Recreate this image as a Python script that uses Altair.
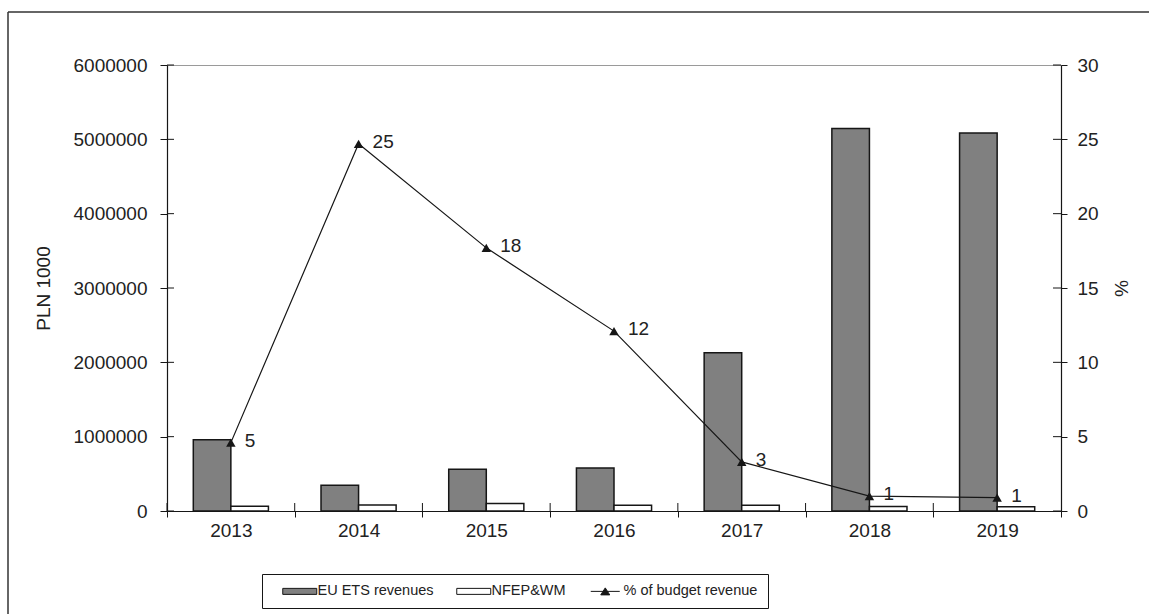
import altair as alt
import pandas as pd

# ---- data -------------------------------------------------------------
years = ["2013", "2014", "2015", "2016", "2017", "2018", "2019"]
eu_ets_revenues = [960000, 345000, 561000, 578000, 2130000, 5145000, 5085000]
nfep_wm = [65000, 80000, 100000, 78000, 76000, 60000, 58000]
budget_share = [4.6, 24.7, 17.7, 12.1, 3.3, 1.0, 0.9]

bar_series = ["EU ETS revenues", "NFEP&WM"]
line_series = "% of budget revenue"
legend_order = bar_series + [line_series]

left_ticks = [0, 1000000, 2000000, 3000000, 4000000, 5000000, 6000000]
right_ticks = [0, 5, 10, 15, 20, 25, 30]

FONT = "Liberation Sans"
INK = "#161616"
TEXT = "#222222"
W, H = 894, 446

bars_df = pd.DataFrame(
    {
        "year": years * 2,
        "series": [bar_series[0]] * len(years) + [bar_series[1]] * len(years),
        "value": eu_ets_revenues + nfep_wm,
    }
)
line_df = pd.DataFrame({"year": years, "pct": budget_share})
left_tick_df = pd.DataFrame({"value": left_ticks})
right_tick_df = pd.DataFrame({"pct": right_ticks})
year_df = pd.DataFrame({"year": years})
legend_df = pd.DataFrame({"series": legend_order})
one_row = pd.DataFrame({"k": [0]})

x_enc = alt.X(
    "year:N",
    sort=years,
    scale=alt.Scale(paddingInner=0, paddingOuter=0),
    axis=alt.Axis(
        title=None,
        labelAngle=0,
        tickBand="extent",
        tickSize=6,
        labelPadding=4,
        labelFontSize=19,
    ),
)

# ---- left scale: revenues in PLN 1000 -----------------------------------
bars = alt.Chart(bars_df).mark_bar(stroke=INK, strokeWidth=1.5).encode(
    x=x_enc,
    xOffset=alt.XOffset(
        "series:N",
        sort=bar_series,
        scale=alt.Scale(domain=bar_series, paddingInner=0, paddingOuter=0.7),
    ),
    y=alt.Y(
        "value:Q",
        scale=alt.Scale(domain=[0, 6000000], nice=False),
        axis=alt.Axis(
            title="PLN 1000",
            orient="left",
            values=left_ticks,
            format="d",
            tickSize=7,
            labelPadding=13,
            titlePadding=20,
        ),
    ),
    fill=alt.condition(
        alt.datum.series == bar_series[0], alt.value("#808080"), alt.value("#ffffff")
    ),
)

# inner halves of the crossing tick marks
left_inner = alt.Chart(left_tick_df).mark_rule(color=INK, strokeWidth=1).encode(
    y=alt.Y("value:Q"), x=alt.value(0), x2=alt.value(7)
)
x_inner = alt.Chart(year_df).mark_rule(color=INK, strokeWidth=1).encode(
    x=alt.X("year:N", sort=years, bandPosition=0),
    y=alt.value(H - 8),
    y2=alt.value(H),
)

left_layer = alt.layer(bars, left_inner, x_inner)

# ---- right scale: share of budget revenue -------------------------------
y_pct = alt.Y(
    "pct:Q",
    scale=alt.Scale(domain=[0, 30], nice=False),
    axis=alt.Axis(
        title="%",
        orient="right",
        values=right_ticks,
        tickSize=6,
        labelPadding=10,
        titlePadding=12,
    ),
)

line = alt.Chart(line_df).mark_line(color=INK, strokeWidth=1.2).encode(
    x=alt.X("year:N", sort=years), y=y_pct
)
points = alt.Chart(line_df).mark_point(
    shape="triangle-up", filled=True, size=90, color=INK, opacity=1
).encode(x=alt.X("year:N", sort=years), y=y_pct)
labels = alt.Chart(line_df).mark_text(
    align="left", baseline="middle", dx=14, dy=-2, fontSize=19, font=FONT, color=TEXT
).encode(
    x=alt.X("year:N", sort=years),
    y=y_pct,
    text=alt.Text("pct:Q", format=".0f"),
)
right_inner = alt.Chart(right_tick_df).mark_rule(color=INK, strokeWidth=1).encode(
    y=alt.Y("pct:Q"), x=alt.value(W - 8), x2=alt.value(W)
)

right_layer = alt.layer(line, points, labels, right_inner)

# ---- legend (swatches as custom symbol paths) -----------------------------
swatch = "M-1.5,0M0.7,-0.6H7.5V0.6H0.7Z"
line_marker = "M-1.5,0M1.1,0H6.9M3.1,0.7L4,-0.7L4.9,0.7Z"

legend = alt.Legend(
    title=None,
    orient="none",
    legendX=95,
    legendY=509,
    direction="horizontal",
    strokeColor=INK,
    fillColor="#ffffff",
    padding=10,
    labelFont=FONT,
    labelFontSize=14.5,
    labelColor=TEXT,
    labelOffset=31,
    columnPadding=9,
    symbolSize=100,
    symbolStrokeWidth=1,
    symbolOpacity=1,
)

legend_layer = (
    alt.Chart(legend_df)
    .transform_filter("false")
    .mark_point(filled=True, strokeWidth=1, opacity=1)
    .encode(
        fill=alt.Fill(
            "series:N",
            sort=legend_order,
            scale=alt.Scale(domain=legend_order, range=["#808080", "#ffffff", INK]),
            legend=legend,
        ),
        stroke=alt.Stroke(
            "series:N",
            sort=legend_order,
            scale=alt.Scale(domain=legend_order, range=[INK, INK, INK]),
            legend=legend,
        ),
        shape=alt.Shape(
            "series:N",
            sort=legend_order,
            scale=alt.Scale(domain=legend_order, range=[swatch, swatch, line_marker]),
            legend=legend,
        ),
    )
)

# ---- outer frame -------------------------------------------------------------
frame_left = alt.Chart(one_row).mark_rule(color="#333333", strokeWidth=1.5).encode(
    x=alt.value(-159), y=alt.value(-53), y2=alt.value(549)
)
frame_top = alt.Chart(one_row).mark_rule(color="#333333", strokeWidth=1.5).encode(
    x=alt.value(-159), x2=alt.value(982), y=alt.value(-53)
)

chart = (
    alt.layer(left_layer, right_layer, legend_layer, frame_left, frame_top)
    .resolve_scale(y="independent")
    .properties(
        width=W,
        height=H,
        padding={"left": 167, "top": 65, "right": 88, "bottom": 103},
        autosize=alt.AutoSizeParams(type="none"),
        background="#ffffff",
    )
    .configure_view(stroke="#9a9a9a", strokeWidth=1)
    .configure_axis(
        grid=False,
        domainColor=INK,
        domainWidth=1.2,
        tickColor=INK,
        tickWidth=1,
        labelFont=FONT,
        labelFontSize=19,
        labelColor=TEXT,
        titleFont=FONT,
        titleFontSize=19,
        titleFontWeight="normal",
        titleColor=TEXT,
    )
)

chart.save("out.html", embed_options={"renderer": "svg", "actions": False})
